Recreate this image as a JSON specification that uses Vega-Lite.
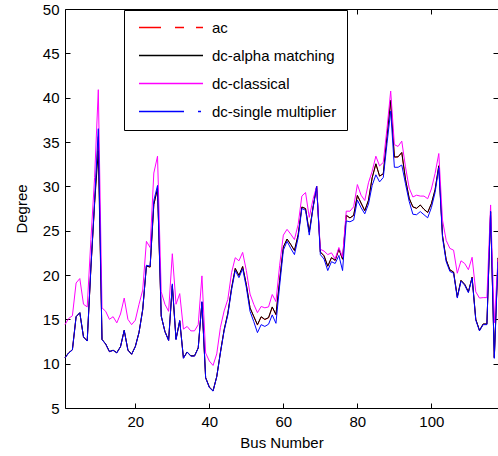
{
"$schema":"https://vega.github.io/schema/vega-lite/v6.json",
"width":433,"height":399,
"autosize":{"type":"none"},
"padding":{"left":65,"top":9,"right":0,"bottom":48},
"background":"white",
"config":{
 "view":{"stroke":"black","strokeWidth":1},
 "font":"Liberation Sans",
 "axis":{"labelFont":"Liberation Sans","labelFontSize":15,"titleFont":"Liberation Sans","titleFontSize":15,"titleFontWeight":"normal","labelColor":"black","titleColor":"black","tickColor":"black","domain":false,"grid":false,"tickSize":-5,"labelPadding":11}
},
"data":{"values":[
{"bus":1,"method":"ac","angle":10.67},{"bus":2,"method":"ac","angle":11.22},{"bus":3,"method":"ac","angle":11.56},{"bus":4,"method":"ac","angle":15.28},{"bus":5,"method":"ac","angle":15.73},{"bus":6,"method":"ac","angle":13.0},{"bus":7,"method":"ac","angle":12.56},{"bus":8,"method":"ac","angle":20.77},{"bus":9,"method":"ac","angle":28.02},{"bus":10,"method":"ac","angle":35.61},
{"bus":11,"method":"ac","angle":12.72},{"bus":12,"method":"ac","angle":12.2},{"bus":13,"method":"ac","angle":11.35},{"bus":14,"method":"ac","angle":11.5},{"bus":15,"method":"ac","angle":11.23},{"bus":16,"method":"ac","angle":11.91},{"bus":17,"method":"ac","angle":13.74},{"bus":18,"method":"ac","angle":11.53},{"bus":19,"method":"ac","angle":11.05},{"bus":20,"method":"ac","angle":11.93},
{"bus":21,"method":"ac","angle":13.52},{"bus":22,"method":"ac","angle":16.08},{"bus":23,"method":"ac","angle":21.0},{"bus":24,"method":"ac","angle":20.89},{"bus":25,"method":"ac","angle":27.93},{"bus":26,"method":"ac","angle":29.71},{"bus":27,"method":"ac","angle":15.35},{"bus":28,"method":"ac","angle":13.62},{"bus":29,"method":"ac","angle":12.63},{"bus":30,"method":"ac","angle":18.79},
{"bus":31,"method":"ac","angle":12.75},{"bus":32,"method":"ac","angle":14.8},{"bus":33,"method":"ac","angle":10.63},{"bus":34,"method":"ac","angle":11.3},{"bus":35,"method":"ac","angle":10.87},{"bus":36,"method":"ac","angle":10.87},{"bus":37,"method":"ac","angle":11.77},{"bus":38,"method":"ac","angle":16.91},{"bus":39,"method":"ac","angle":8.41},{"bus":40,"method":"ac","angle":7.35},
{"bus":41,"method":"ac","angle":6.92},{"bus":42,"method":"ac","angle":8.53},{"bus":43,"method":"ac","angle":11.28},{"bus":44,"method":"ac","angle":13.82},{"bus":45,"method":"ac","angle":15.67},{"bus":46,"method":"ac","angle":18.49},{"bus":47,"method":"ac","angle":20.73},{"bus":48,"method":"ac","angle":19.93},{"bus":49,"method":"ac","angle":20.94},{"bus":50,"method":"ac","angle":18.9},
{"bus":51,"method":"ac","angle":16.28},{"bus":52,"method":"ac","angle":15.32},{"bus":53,"method":"ac","angle":14.35},{"bus":54,"method":"ac","angle":15.26},{"bus":55,"method":"ac","angle":14.97},{"bus":56,"method":"ac","angle":15.16},{"bus":57,"method":"ac","angle":16.36},{"bus":58,"method":"ac","angle":15.51},{"bus":59,"method":"ac","angle":19.37},{"bus":60,"method":"ac","angle":23.15},
{"bus":61,"method":"ac","angle":24.04},{"bus":62,"method":"ac","angle":23.43},{"bus":63,"method":"ac","angle":22.75},{"bus":64,"method":"ac","angle":24.52},{"bus":65,"method":"ac","angle":27.65},{"bus":66,"method":"ac","angle":27.48},{"bus":67,"method":"ac","angle":24.84},{"bus":68,"method":"ac","angle":27.55},{"bus":69,"method":"ac","angle":30.0},{"bus":70,"method":"ac","angle":22.58},
{"bus":71,"method":"ac","angle":22.15},{"bus":72,"method":"ac","angle":20.98},{"bus":73,"method":"ac","angle":21.94},{"bus":74,"method":"ac","angle":21.64},{"bus":75,"method":"ac","angle":22.91},{"bus":76,"method":"ac","angle":21.77},{"bus":77,"method":"ac","angle":26.72},{"bus":78,"method":"ac","angle":26.42},{"bus":79,"method":"ac","angle":26.72},{"bus":80,"method":"ac","angle":28.96},
{"bus":81,"method":"ac","angle":28.1},{"bus":82,"method":"ac","angle":27.24},{"bus":83,"method":"ac","angle":28.42},{"bus":84,"method":"ac","angle":30.95},{"bus":85,"method":"ac","angle":32.51},{"bus":86,"method":"ac","angle":31.14},{"bus":87,"method":"ac","angle":31.4},{"bus":88,"method":"ac","angle":35.64},{"bus":89,"method":"ac","angle":39.69},{"bus":90,"method":"ac","angle":33.29},
{"bus":91,"method":"ac","angle":33.31},{"bus":92,"method":"ac","angle":33.8},{"bus":93,"method":"ac","angle":30.79},{"bus":94,"method":"ac","angle":28.64},{"bus":95,"method":"ac","angle":27.67},{"bus":96,"method":"ac","angle":27.51},{"bus":97,"method":"ac","angle":27.88},{"bus":98,"method":"ac","angle":27.4},{"bus":99,"method":"ac","angle":27.04},{"bus":100,"method":"ac","angle":28.03},
{"bus":101,"method":"ac","angle":29.61},{"bus":102,"method":"ac","angle":32.3},{"bus":103,"method":"ac","angle":24.44},{"bus":104,"method":"ac","angle":21.69},{"bus":105,"method":"ac","angle":20.57},{"bus":106,"method":"ac","angle":20.32},{"bus":107,"method":"ac","angle":17.53},{"bus":108,"method":"ac","angle":19.38},{"bus":109,"method":"ac","angle":18.93},{"bus":110,"method":"ac","angle":18.09},
{"bus":111,"method":"ac","angle":19.74},{"bus":112,"method":"ac","angle":14.99},{"bus":113,"method":"ac","angle":13.74},{"bus":114,"method":"ac","angle":14.46},{"bus":115,"method":"ac","angle":14.46},{"bus":116,"method":"ac","angle":27.12},{"bus":117,"method":"ac","angle":10.67},{"bus":118,"method":"ac","angle":21.92},
{"bus":1,"method":"dc-alpha matching","angle":10.68},{"bus":2,"method":"dc-alpha matching","angle":11.23},{"bus":3,"method":"dc-alpha matching","angle":11.57},{"bus":4,"method":"dc-alpha matching","angle":15.3},{"bus":5,"method":"dc-alpha matching","angle":15.75},{"bus":6,"method":"dc-alpha matching","angle":13.02},{"bus":7,"method":"dc-alpha matching","angle":12.57},{"bus":8,"method":"dc-alpha matching","angle":20.8},{"bus":9,"method":"dc-alpha matching","angle":28.1},{"bus":10,"method":"dc-alpha matching","angle":34.0},
{"bus":11,"method":"dc-alpha matching","angle":12.75},{"bus":12,"method":"dc-alpha matching","angle":12.22},{"bus":13,"method":"dc-alpha matching","angle":11.37},{"bus":14,"method":"dc-alpha matching","angle":11.52},{"bus":15,"method":"dc-alpha matching","angle":11.25},{"bus":16,"method":"dc-alpha matching","angle":11.93},{"bus":17,"method":"dc-alpha matching","angle":13.76},{"bus":18,"method":"dc-alpha matching","angle":11.55},{"bus":19,"method":"dc-alpha matching","angle":11.07},{"bus":20,"method":"dc-alpha matching","angle":11.95},
{"bus":21,"method":"dc-alpha matching","angle":13.54},{"bus":22,"method":"dc-alpha matching","angle":16.1},{"bus":23,"method":"dc-alpha matching","angle":21.02},{"bus":24,"method":"dc-alpha matching","angle":20.9},{"bus":25,"method":"dc-alpha matching","angle":27.95},{"bus":26,"method":"dc-alpha matching","angle":29.8},{"bus":27,"method":"dc-alpha matching","angle":15.37},{"bus":28,"method":"dc-alpha matching","angle":13.64},{"bus":29,"method":"dc-alpha matching","angle":12.65},{"bus":30,"method":"dc-alpha matching","angle":18.82},
{"bus":31,"method":"dc-alpha matching","angle":12.77},{"bus":32,"method":"dc-alpha matching","angle":14.82},{"bus":33,"method":"dc-alpha matching","angle":10.65},{"bus":34,"method":"dc-alpha matching","angle":11.32},{"bus":35,"method":"dc-alpha matching","angle":10.89},{"bus":36,"method":"dc-alpha matching","angle":10.89},{"bus":37,"method":"dc-alpha matching","angle":11.79},{"bus":38,"method":"dc-alpha matching","angle":16.93},{"bus":39,"method":"dc-alpha matching","angle":8.43},{"bus":40,"method":"dc-alpha matching","angle":7.37},
{"bus":41,"method":"dc-alpha matching","angle":6.94},{"bus":42,"method":"dc-alpha matching","angle":8.55},{"bus":43,"method":"dc-alpha matching","angle":11.3},{"bus":44,"method":"dc-alpha matching","angle":13.84},{"bus":45,"method":"dc-alpha matching","angle":15.69},{"bus":46,"method":"dc-alpha matching","angle":18.51},{"bus":47,"method":"dc-alpha matching","angle":20.75},{"bus":48,"method":"dc-alpha matching","angle":19.95},{"bus":49,"method":"dc-alpha matching","angle":20.96},{"bus":50,"method":"dc-alpha matching","angle":18.92},
{"bus":51,"method":"dc-alpha matching","angle":16.3},{"bus":52,"method":"dc-alpha matching","angle":15.34},{"bus":53,"method":"dc-alpha matching","angle":14.4},{"bus":54,"method":"dc-alpha matching","angle":15.3},{"bus":55,"method":"dc-alpha matching","angle":15.0},{"bus":56,"method":"dc-alpha matching","angle":15.2},{"bus":57,"method":"dc-alpha matching","angle":16.4},{"bus":58,"method":"dc-alpha matching","angle":15.55},{"bus":59,"method":"dc-alpha matching","angle":19.4},{"bus":60,"method":"dc-alpha matching","angle":23.17},
{"bus":61,"method":"dc-alpha matching","angle":24.06},{"bus":62,"method":"dc-alpha matching","angle":23.45},{"bus":63,"method":"dc-alpha matching","angle":22.77},{"bus":64,"method":"dc-alpha matching","angle":24.54},{"bus":65,"method":"dc-alpha matching","angle":27.67},{"bus":66,"method":"dc-alpha matching","angle":27.5},{"bus":67,"method":"dc-alpha matching","angle":24.86},{"bus":68,"method":"dc-alpha matching","angle":27.57},{"bus":69,"method":"dc-alpha matching","angle":30.0},{"bus":70,"method":"dc-alpha matching","angle":22.6},
{"bus":71,"method":"dc-alpha matching","angle":22.17},{"bus":72,"method":"dc-alpha matching","angle":21.0},{"bus":73,"method":"dc-alpha matching","angle":21.96},{"bus":74,"method":"dc-alpha matching","angle":21.66},{"bus":75,"method":"dc-alpha matching","angle":22.93},{"bus":76,"method":"dc-alpha matching","angle":21.79},{"bus":77,"method":"dc-alpha matching","angle":26.74},{"bus":78,"method":"dc-alpha matching","angle":26.44},{"bus":79,"method":"dc-alpha matching","angle":26.74},{"bus":80,"method":"dc-alpha matching","angle":28.98},
{"bus":81,"method":"dc-alpha matching","angle":28.12},{"bus":82,"method":"dc-alpha matching","angle":27.26},{"bus":83,"method":"dc-alpha matching","angle":28.44},{"bus":84,"method":"dc-alpha matching","angle":30.97},{"bus":85,"method":"dc-alpha matching","angle":32.55},{"bus":86,"method":"dc-alpha matching","angle":31.16},{"bus":87,"method":"dc-alpha matching","angle":31.42},{"bus":88,"method":"dc-alpha matching","angle":35.66},{"bus":89,"method":"dc-alpha matching","angle":39.7},{"bus":90,"method":"dc-alpha matching","angle":33.31},
{"bus":91,"method":"dc-alpha matching","angle":33.33},{"bus":92,"method":"dc-alpha matching","angle":33.82},{"bus":93,"method":"dc-alpha matching","angle":30.81},{"bus":94,"method":"dc-alpha matching","angle":28.66},{"bus":95,"method":"dc-alpha matching","angle":27.69},{"bus":96,"method":"dc-alpha matching","angle":27.53},{"bus":97,"method":"dc-alpha matching","angle":27.9},{"bus":98,"method":"dc-alpha matching","angle":27.42},{"bus":99,"method":"dc-alpha matching","angle":27.06},{"bus":100,"method":"dc-alpha matching","angle":28.05},
{"bus":101,"method":"dc-alpha matching","angle":29.63},{"bus":102,"method":"dc-alpha matching","angle":32.32},{"bus":103,"method":"dc-alpha matching","angle":24.46},{"bus":104,"method":"dc-alpha matching","angle":21.71},{"bus":105,"method":"dc-alpha matching","angle":20.59},{"bus":106,"method":"dc-alpha matching","angle":20.34},{"bus":107,"method":"dc-alpha matching","angle":17.55},{"bus":108,"method":"dc-alpha matching","angle":19.4},{"bus":109,"method":"dc-alpha matching","angle":18.95},{"bus":110,"method":"dc-alpha matching","angle":18.11},
{"bus":111,"method":"dc-alpha matching","angle":19.76},{"bus":112,"method":"dc-alpha matching","angle":15.01},{"bus":113,"method":"dc-alpha matching","angle":13.76},{"bus":114,"method":"dc-alpha matching","angle":14.48},{"bus":115,"method":"dc-alpha matching","angle":14.48},{"bus":116,"method":"dc-alpha matching","angle":27.14},{"bus":117,"method":"dc-alpha matching","angle":10.69},{"bus":118,"method":"dc-alpha matching","angle":21.94},
{"bus":1,"method":"dc-classical","angle":14.4},{"bus":2,"method":"dc-classical","angle":15.1},{"bus":3,"method":"dc-classical","angle":15.4},{"bus":4,"method":"dc-classical","angle":19.1},{"bus":5,"method":"dc-classical","angle":19.6},{"bus":6,"method":"dc-classical","angle":16.7},{"bus":7,"method":"dc-classical","angle":16.4},{"bus":8,"method":"dc-classical","angle":24.0},{"bus":9,"method":"dc-classical","angle":31.0},{"bus":10,"method":"dc-classical","angle":40.9},
{"bus":11,"method":"dc-classical","angle":16.3},{"bus":12,"method":"dc-classical","angle":15.9},{"bus":13,"method":"dc-classical","angle":15.0},{"bus":14,"method":"dc-classical","angle":15.3},{"bus":15,"method":"dc-classical","angle":14.6},{"bus":16,"method":"dc-classical","angle":15.6},{"bus":17,"method":"dc-classical","angle":17.4},{"bus":18,"method":"dc-classical","angle":15.0},{"bus":19,"method":"dc-classical","angle":14.4},{"bus":20,"method":"dc-classical","angle":14.9},
{"bus":21,"method":"dc-classical","angle":16.7},{"bus":22,"method":"dc-classical","angle":18.3},{"bus":23,"method":"dc-classical","angle":23.8},{"bus":24,"method":"dc-classical","angle":23.1},{"bus":25,"method":"dc-classical","angle":31.5},{"bus":26,"method":"dc-classical","angle":33.4},{"bus":27,"method":"dc-classical","angle":18.1},{"bus":28,"method":"dc-classical","angle":16.7},{"bus":29,"method":"dc-classical","angle":15.9},{"bus":30,"method":"dc-classical","angle":22.4},
{"bus":31,"method":"dc-classical","angle":16.7},{"bus":32,"method":"dc-classical","angle":17.9},{"bus":33,"method":"dc-classical","angle":13.9},{"bus":34,"method":"dc-classical","angle":14.2},{"bus":35,"method":"dc-classical","angle":13.7},{"bus":36,"method":"dc-classical","angle":13.7},{"bus":37,"method":"dc-classical","angle":14.4},{"bus":38,"method":"dc-classical","angle":19.9},{"bus":39,"method":"dc-classical","angle":11.2},{"bus":40,"method":"dc-classical","angle":10.3},
{"bus":41,"method":"dc-classical","angle":9.8},{"bus":42,"method":"dc-classical","angle":11.1},{"bus":43,"method":"dc-classical","angle":14.1},{"bus":44,"method":"dc-classical","angle":15.95},{"bus":45,"method":"dc-classical","angle":17.25},{"bus":46,"method":"dc-classical","angle":20.25},{"bus":47,"method":"dc-classical","angle":21.95},{"bus":48,"method":"dc-classical","angle":21.6},{"bus":49,"method":"dc-classical","angle":22.55},{"bus":50,"method":"dc-classical","angle":20.5},
{"bus":51,"method":"dc-classical","angle":17.85},{"bus":52,"method":"dc-classical","angle":16.7},{"bus":53,"method":"dc-classical","angle":15.75},{"bus":54,"method":"dc-classical","angle":16.45},{"bus":55,"method":"dc-classical","angle":16.3},{"bus":56,"method":"dc-classical","angle":16.4},{"bus":57,"method":"dc-classical","angle":17.8},{"bus":58,"method":"dc-classical","angle":17.0},{"bus":59,"method":"dc-classical","angle":21.1},{"bus":60,"method":"dc-classical","angle":24.5},
{"bus":61,"method":"dc-classical","angle":25.15},{"bus":62,"method":"dc-classical","angle":24.6},{"bus":63,"method":"dc-classical","angle":24.0},{"bus":64,"method":"dc-classical","angle":25.7},{"bus":65,"method":"dc-classical","angle":28.9},{"bus":66,"method":"dc-classical","angle":29.3},{"bus":67,"method":"dc-classical","angle":26.5},{"bus":68,"method":"dc-classical","angle":28.5},{"bus":69,"method":"dc-classical","angle":30.0},{"bus":70,"method":"dc-classical","angle":22.9},
{"bus":71,"method":"dc-classical","angle":22.7},{"bus":72,"method":"dc-classical","angle":22.3},{"bus":73,"method":"dc-classical","angle":22.5},{"bus":74,"method":"dc-classical","angle":21.8},{"bus":75,"method":"dc-classical","angle":23.1},{"bus":76,"method":"dc-classical","angle":22.0},{"bus":77,"method":"dc-classical","angle":27.2},{"bus":78,"method":"dc-classical","angle":27.2},{"bus":79,"method":"dc-classical","angle":27.7},{"bus":80,"method":"dc-classical","angle":30.2},
{"bus":81,"method":"dc-classical","angle":29.0},{"bus":82,"method":"dc-classical","angle":28.4},{"bus":83,"method":"dc-classical","angle":30.4},{"bus":84,"method":"dc-classical","angle":31.7},{"bus":85,"method":"dc-classical","angle":33.4},{"bus":86,"method":"dc-classical","angle":32.3},{"bus":87,"method":"dc-classical","angle":32.7},{"bus":88,"method":"dc-classical","angle":36.5},{"bus":89,"method":"dc-classical","angle":40.75},{"bus":90,"method":"dc-classical","angle":34.7},
{"bus":91,"method":"dc-classical","angle":34.5},{"bus":92,"method":"dc-classical","angle":35.1},{"bus":93,"method":"dc-classical","angle":32.2},{"bus":94,"method":"dc-classical","angle":29.8},{"bus":95,"method":"dc-classical","angle":28.8},{"bus":96,"method":"dc-classical","angle":29.0},{"bus":97,"method":"dc-classical","angle":28.9},{"bus":98,"method":"dc-classical","angle":28.9},{"bus":99,"method":"dc-classical","angle":28.6},{"bus":100,"method":"dc-classical","angle":29.7},
{"bus":101,"method":"dc-classical","angle":31.45},{"bus":102,"method":"dc-classical","angle":33.7},{"bus":103,"method":"dc-classical","angle":26.2},{"bus":104,"method":"dc-classical","angle":23.9},{"bus":105,"method":"dc-classical","angle":23.0},{"bus":106,"method":"dc-classical","angle":22.8},{"bus":107,"method":"dc-classical","angle":20.2},{"bus":108,"method":"dc-classical","angle":21.6},{"bus":109,"method":"dc-classical","angle":21.3},{"bus":110,"method":"dc-classical","angle":20.6},
{"bus":111,"method":"dc-classical","angle":22.0},{"bus":112,"method":"dc-classical","angle":18.1},{"bus":113,"method":"dc-classical","angle":17.4},{"bus":114,"method":"dc-classical","angle":17.45},{"bus":115,"method":"dc-classical","angle":17.45},{"bus":116,"method":"dc-classical","angle":27.9},{"bus":117,"method":"dc-classical","angle":14.6},{"bus":118,"method":"dc-classical","angle":21.8},
{"bus":1,"method":"dc-single multiplier","angle":10.65},{"bus":2,"method":"dc-single multiplier","angle":11.2},{"bus":3,"method":"dc-single multiplier","angle":11.55},{"bus":4,"method":"dc-single multiplier","angle":15.3},{"bus":5,"method":"dc-single multiplier","angle":15.75},{"bus":6,"method":"dc-single multiplier","angle":13.0},{"bus":7,"method":"dc-single multiplier","angle":12.55},{"bus":8,"method":"dc-single multiplier","angle":20.9},{"bus":9,"method":"dc-single multiplier","angle":28.3},{"bus":10,"method":"dc-single multiplier","angle":36.5},
{"bus":11,"method":"dc-single multiplier","angle":12.7},{"bus":12,"method":"dc-single multiplier","angle":12.2},{"bus":13,"method":"dc-single multiplier","angle":11.35},{"bus":14,"method":"dc-single multiplier","angle":11.5},{"bus":15,"method":"dc-single multiplier","angle":11.2},{"bus":16,"method":"dc-single multiplier","angle":11.9},{"bus":17,"method":"dc-single multiplier","angle":13.75},{"bus":18,"method":"dc-single multiplier","angle":11.5},{"bus":19,"method":"dc-single multiplier","angle":11.05},{"bus":20,"method":"dc-single multiplier","angle":11.9},
{"bus":21,"method":"dc-single multiplier","angle":13.5},{"bus":22,"method":"dc-single multiplier","angle":16.1},{"bus":23,"method":"dc-single multiplier","angle":21.1},{"bus":24,"method":"dc-single multiplier","angle":21.0},{"bus":25,"method":"dc-single multiplier","angle":28.4},{"bus":26,"method":"dc-single multiplier","angle":30.1},{"bus":27,"method":"dc-single multiplier","angle":15.4},{"bus":28,"method":"dc-single multiplier","angle":13.6},{"bus":29,"method":"dc-single multiplier","angle":12.6},{"bus":30,"method":"dc-single multiplier","angle":19.0},
{"bus":31,"method":"dc-single multiplier","angle":12.7},{"bus":32,"method":"dc-single multiplier","angle":14.9},{"bus":33,"method":"dc-single multiplier","angle":10.6},{"bus":34,"method":"dc-single multiplier","angle":11.3},{"bus":35,"method":"dc-single multiplier","angle":10.85},{"bus":36,"method":"dc-single multiplier","angle":10.85},{"bus":37,"method":"dc-single multiplier","angle":11.75},{"bus":38,"method":"dc-single multiplier","angle":17.0},{"bus":39,"method":"dc-single multiplier","angle":8.4},{"bus":40,"method":"dc-single multiplier","angle":7.3},
{"bus":41,"method":"dc-single multiplier","angle":6.9},{"bus":42,"method":"dc-single multiplier","angle":8.5},{"bus":43,"method":"dc-single multiplier","angle":11.2},{"bus":44,"method":"dc-single multiplier","angle":13.7},{"bus":45,"method":"dc-single multiplier","angle":15.5},{"bus":46,"method":"dc-single multiplier","angle":18.3},{"bus":47,"method":"dc-single multiplier","angle":20.5},{"bus":48,"method":"dc-single multiplier","angle":19.7},{"bus":49,"method":"dc-single multiplier","angle":20.7},{"bus":50,"method":"dc-single multiplier","angle":18.6},
{"bus":51,"method":"dc-single multiplier","angle":15.9},{"bus":52,"method":"dc-single multiplier","angle":14.75},{"bus":53,"method":"dc-single multiplier","angle":13.5},{"bus":54,"method":"dc-single multiplier","angle":14.4},{"bus":55,"method":"dc-single multiplier","angle":14.2},{"bus":56,"method":"dc-single multiplier","angle":14.45},{"bus":57,"method":"dc-single multiplier","angle":15.5},{"bus":58,"method":"dc-single multiplier","angle":14.55},{"bus":59,"method":"dc-single multiplier","angle":18.8},{"bus":60,"method":"dc-single multiplier","angle":22.8},
{"bus":61,"method":"dc-single multiplier","angle":23.8},{"bus":62,"method":"dc-single multiplier","angle":23.0},{"bus":63,"method":"dc-single multiplier","angle":22.3},{"bus":64,"method":"dc-single multiplier","angle":24.2},{"bus":65,"method":"dc-single multiplier","angle":27.5},{"bus":66,"method":"dc-single multiplier","angle":27.3},{"bus":67,"method":"dc-single multiplier","angle":24.5},{"bus":68,"method":"dc-single multiplier","angle":27.5},{"bus":69,"method":"dc-single multiplier","angle":30.0},{"bus":70,"method":"dc-single multiplier","angle":22.3},
{"bus":71,"method":"dc-single multiplier","angle":21.8},{"bus":72,"method":"dc-single multiplier","angle":20.5},{"bus":73,"method":"dc-single multiplier","angle":21.5},{"bus":74,"method":"dc-single multiplier","angle":21.3},{"bus":75,"method":"dc-single multiplier","angle":22.2},{"bus":76,"method":"dc-single multiplier","angle":20.5},{"bus":77,"method":"dc-single multiplier","angle":26.1},{"bus":78,"method":"dc-single multiplier","angle":26.0},{"bus":79,"method":"dc-single multiplier","angle":26.2},{"bus":80,"method":"dc-single multiplier","angle":28.45},
{"bus":81,"method":"dc-single multiplier","angle":27.6},{"bus":82,"method":"dc-single multiplier","angle":26.9},{"bus":83,"method":"dc-single multiplier","angle":28.0},{"bus":84,"method":"dc-single multiplier","angle":30.1},{"bus":85,"method":"dc-single multiplier","angle":31.3},{"bus":86,"method":"dc-single multiplier","angle":30.5},{"bus":87,"method":"dc-single multiplier","angle":31.0},{"bus":88,"method":"dc-single multiplier","angle":34.8},{"bus":89,"method":"dc-single multiplier","angle":38.5},{"bus":90,"method":"dc-single multiplier","angle":32.15},
{"bus":91,"method":"dc-single multiplier","angle":32.15},{"bus":92,"method":"dc-single multiplier","angle":32.4},{"bus":93,"method":"dc-single multiplier","angle":30.3},{"bus":94,"method":"dc-single multiplier","angle":28.3},{"bus":95,"method":"dc-single multiplier","angle":26.85},{"bus":96,"method":"dc-single multiplier","angle":26.8},{"bus":97,"method":"dc-single multiplier","angle":27.15},{"bus":98,"method":"dc-single multiplier","angle":26.8},{"bus":99,"method":"dc-single multiplier","angle":26.45},{"bus":100,"method":"dc-single multiplier","angle":27.6},
{"bus":101,"method":"dc-single multiplier","angle":29.3},{"bus":102,"method":"dc-single multiplier","angle":32.1},{"bus":103,"method":"dc-single multiplier","angle":24.2},{"bus":104,"method":"dc-single multiplier","angle":21.5},{"bus":105,"method":"dc-single multiplier","angle":20.4},{"bus":106,"method":"dc-single multiplier","angle":20.2},{"bus":107,"method":"dc-single multiplier","angle":17.4},{"bus":108,"method":"dc-single multiplier","angle":19.3},{"bus":109,"method":"dc-single multiplier","angle":18.85},{"bus":110,"method":"dc-single multiplier","angle":18.0},
{"bus":111,"method":"dc-single multiplier","angle":19.65},{"bus":112,"method":"dc-single multiplier","angle":14.9},{"bus":113,"method":"dc-single multiplier","angle":13.7},{"bus":114,"method":"dc-single multiplier","angle":14.4},{"bus":115,"method":"dc-single multiplier","angle":14.4},{"bus":116,"method":"dc-single multiplier","angle":27.2},{"bus":117,"method":"dc-single multiplier","angle":10.6},{"bus":118,"method":"dc-single multiplier","angle":21.5}
]},
"layer":[
{"mark":{"type":"line","strokeWidth":1},
 "encoding":{
  "x":{"field":"bus","type":"quantitative","scale":{"domain":[1,118],"nice":false,"zero":false},"axis":{"values":[20,40,60,80,100],"title":"Bus Number","titlePadding":6}},
  "y":{"field":"angle","type":"quantitative","scale":{"domain":[5,50],"nice":false,"zero":false},"axis":{"values":[5,10,15,20,25,30,35,40,45,50],"title":"Degree","titlePadding":13}},
  "color":{"field":"method","type":"nominal",
   "scale":{"domain":["ac","dc-alpha matching","dc-classical","dc-single multiplier"],"range":["#ff0000","#000000","#ff00ff","#0000ff"]},
   "legend":{"orient":"none","legendX":59,"legendY":1,"title":null,"symbolType":"stroke","symbolSize":4096,"clipHeight":15,"symbolStrokeWidth":1.3,"symbolOffset":4,"labelFont":"Liberation Sans","labelFontSize":15,"labelColor":"black","labelOffset":8,"labelLimit":400,"rowPadding":12,"padding":10,"strokeColor":"black","fillColor":"white",
    "encode":{"symbols":{"update":{"stroke":{"scale":"color","field":"value"},"strokeDash":{"signal":"datum.value === 'ac' ? [22,14,9,12] : (datum.value === 'dc-single multiplier' ? [45,14,3,20] : [1,0])"}}}}}
  }
 }
},
{"mark":{"type":"line","opacity":0},
 "encoding":{
  "x":{"field":"bus","type":"quantitative","scale":{"domain":[1,118],"nice":false,"zero":false},"axis":{"orient":"top","values":[20,40,60,80,100],"labels":false,"title":null}},
  "y":{"field":"angle","type":"quantitative","scale":{"domain":[5,50],"nice":false,"zero":false},"axis":{"orient":"right","values":[5,10,15,20,25,30,35,40,45,50],"labels":false,"title":null}}
 }
}
],
"resolve":{"axis":{"x":"independent","y":"independent"}}
}
